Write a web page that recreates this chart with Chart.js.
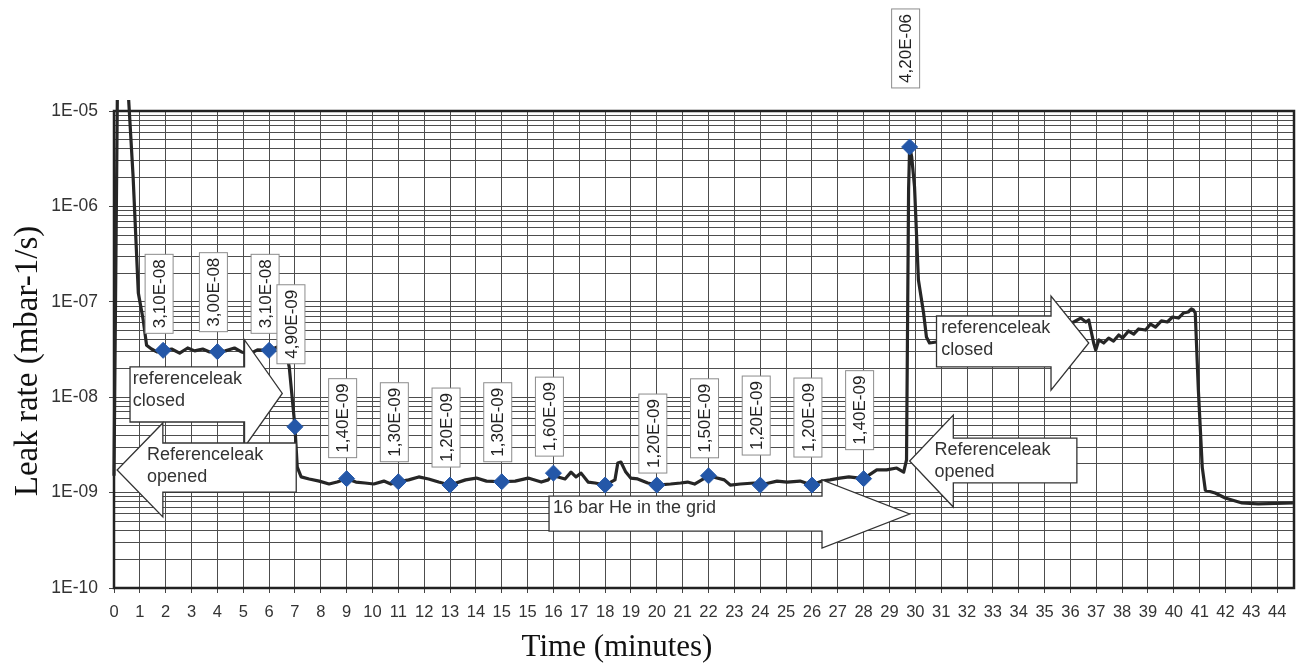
<!DOCTYPE html>
<html>
<head>
<meta charset="utf-8">
<title>Leak rate over time</title>
<script src="https://cdn.jsdelivr.net/npm/chart.js@4.4.1/dist/chart.umd.min.js"></script>
<style>
  html, body { margin: 0; padding: 0; background: #fff; }
  #wrap { width: 1303px; height: 666px; position: relative; }
</style>
</head>
<body>
<div id="wrap"><canvas id="leak" width="1303" height="666"></canvas></div>
<script>
// Labels printed under each grid column (the logger repeats 15)
const timeLabels = ['0','1','2','3','4','5','6','7','8','9','10','11','12','13','14','15','15','16','17','18','19','20',
  '21','22','23','24','25','26','27','28','29','30','31','32','33','34','35','36','37','38','39','40','41','42','43','44'];

// Decade labels of the logarithmic leak-rate axis
const yTickLabels = ['1E-10','1E-09','1E-08','1E-07','1E-06','1E-05'];

// Recorded helium leak rate trace (x in grid columns, y in mbar·l/s)
const traceX = [0, 0.14, 0.49, 0.74, 0.94, 1.13, 1.26, 1.45, 1.66, 1.9, 2.23, 2.54, 2.85, 3.12, 3.43, 3.7, 4.0,
  4.31, 4.66, 4.93, 5.24, 5.55, 6.0, 6.32, 6.66, 6.78, 7.0, 7.09, 7.24, 7.55, 7.94, 8.32, 8.63, 9.0, 9.36, 9.71,
  10.05, 10.44, 10.71, 11.0, 11.4, 11.79, 12.17, 12.56, 13.0, 13.6, 14.02, 14.41, 15.0, 15.52, 16.02, 16.53, 16.8,
  17.0, 17.18, 17.45, 17.68, 17.87, 18.07, 18.34, 18.61, 19.0, 19.38, 19.49, 19.61, 19.8, 19.99, 20.26, 20.65,
  21.0, 21.53, 21.92, 22.19, 22.46, 23.0, 23.61, 23.84, 24.23, 24.77, 25.0, 25.65, 26.04, 26.54, 27.0, 27.39,
  27.7, 28.08, 28.43, 29.0, 29.51, 29.89, 30.28, 30.55, 30.66, 30.74, 30.78, 30.86, 30.97, 31.12, 31.32, 31.43,
  31.55, 31.82, 32.59, 34.13, 35.67, 36.83, 37.13, 37.4, 37.6, 37.71, 37.9, 37.98, 38.1, 38.29, 38.48, 38.67,
  38.87, 39.02, 39.25, 39.45, 39.64, 39.91, 40.1, 40.29, 40.52, 40.75, 40.95, 41.18, 41.37, 41.56, 41.68, 41.76,
  41.83, 41.95, 42.1, 42.22, 42.6, 42.99, 43.64, 44.26, 45.61];
const traceY = [1.5e-9, 3e-5, 3e-5, 2.03e-6, 1.24e-7, 6.44e-8, 3.5e-8, 3.2e-8, 2.98e-8, 3.1e-8, 3.2e-8, 2.9e-8,
  3.28e-8, 3.06e-8, 3.2e-8, 2.98e-8, 3.0e-8, 3.06e-8, 3.28e-8, 2.98e-8, 2.84e-8, 3.13e-8, 3.1e-8, 3.36e-8, 2.98e-8,
  2.07e-8, 4.9e-9, 1.85e-9, 1.46e-9, 1.39e-9, 1.32e-9, 1.23e-9, 1.29e-9, 1.4e-9, 1.29e-9, 1.26e-9, 1.23e-9,
  1.32e-9, 1.23e-9, 1.3e-9, 1.36e-9, 1.46e-9, 1.39e-9, 1.29e-9, 1.2e-9, 1.36e-9, 1.42e-9, 1.32e-9, 1.3e-9,
  1.32e-9, 1.42e-9, 1.29e-9, 1.36e-9, 1.6e-9, 1.46e-9, 1.39e-9, 1.64e-9, 1.46e-9, 1.6e-9, 1.29e-9, 1.26e-9,
  1.2e-9, 1.36e-9, 2.04e-9, 2.09e-9, 1.64e-9, 1.42e-9, 1.39e-9, 1.26e-9, 1.2e-9, 1.23e-9, 1.26e-9, 1.29e-9,
  1.23e-9, 1.5e-9, 1.36e-9, 1.2e-9, 1.23e-9, 1.26e-9, 1.2e-9, 1.32e-9, 1.29e-9, 1.32e-9, 1.2e-9, 1.32e-9,
  1.36e-9, 1.42e-9, 1.46e-9, 1.4e-9, 1.73e-9, 1.73e-9, 1.81e-9, 1.64e-9, 2.2e-9, 1.5e-6, 4.2e-6, 3.3e-6, 1.6e-6,
  1.69e-7, 7.63e-8, 4.28e-8, 3.7e-8, 3.79e-8, 3.98e-8, 4.71e-8, 5.44e-8, 6.0e-8, 6.14e-8, 6.76e-8, 6.14e-8,
  6.44e-8, 3.7e-8, 3.13e-8, 3.98e-8, 3.7e-8, 4.17e-8, 3.88e-8, 4.49e-8, 4.17e-8, 4.94e-8, 4.59e-8, 5.19e-8,
  5.06e-8, 5.85e-8, 5.44e-8, 6.3e-8, 6.14e-8, 6.93e-8, 6.76e-8, 7.63e-8, 7.82e-8, 8.41e-8, 8.2e-8, 7.63e-8,
  1.19e-8, 1.85e-9, 1.06e-9, 9.9e-10, 8.77e-10, 7.78e-10, 7.6e-10, 7.78e-10];

// Marked readings and whether each one carries a value tag
const readingX = [1.9, 4, 6, 7, 9, 11, 13, 15, 17, 19, 21, 23, 25, 27, 29, 30.78];
const readingY = [3.1e-8, 3.0e-8, 3.1e-8, 4.9e-9, 1.4e-9, 1.3e-9, 1.2e-9, 1.3e-9, 1.6e-9, 1.2e-9, 1.2e-9,
  1.5e-9, 1.2e-9, 1.2e-9, 1.4e-9, 4.2e-6];
const readingTagged = [true, true, true, true, true, true, true, true, true, false, true, true, true, true, true, true];

// Block-arrow notes (x in grid columns, y as log10 of the leak rate)
const notes = [
  { lines: ['referenceleak', 'closed'], end: 0.62, base: 5.05, tip: 6.51, shaft: [-7.683, -8.26], head: [-7.40, -8.522], textX: 0.73 },
  { lines: ['Referenceleak', 'opened'], end: 7.05, base: 1.89, tip: 0.12, shaft: [-8.48, -8.994], head: [-8.27, -9.256], textX: 1.28 },
  { lines: ['16 bar He in the grid'], end: 16.83, base: 27.39, tip: 30.78, shaft: [-9.036, -9.403], head: [-8.868, -9.581], textX: 16.98 },
  { lines: ['Referenceleak', 'opened'], end: 37.25, base: 32.47, tip: 30.78, shaft: [-8.428, -8.899], head: [-8.187, -9.151], textX: 31.74 },
  { lines: ['referenceleak', 'closed'], end: 31.82, base: 36.25, tip: 37.71, shaft: [-7.149, -7.683], head: [-6.939, -7.925], textX: 32.0 }
];

// How far each value tag sits above its marker (px)
const tagGap = [17, 20, 17, 63, 21, 20, 18, 20, 17, 0, 12, 18, 30, 28, 29, 59];

const SANS = "'Liberation Sans', Arial, sans-serif";
const SERIF = "'Liberation Serif', 'Times New Roman', serif";

function formatReading(v) {
  const e = Math.floor(Math.log10(v) + 1e-9);
  const m = (v / Math.pow(10, e)).toFixed(2).replace('.', ',');
  const sign = e < 0 ? '-' : '+';
  return m + 'E' + sign + String(Math.abs(e)).padStart(2, '0');
}

function isDecade(v) {
  const l = Math.log10(v);
  return Math.abs(l - Math.round(l)) < 1e-6;
}

const framePlugin = {
  id: 'frame',
  beforeDatasetsDraw(chart) {
    const { ctx, chartArea: a } = chart;
    ctx.save();
    ctx.strokeStyle = '#222';
    ctx.lineWidth = 2.5;
    ctx.strokeRect(a.left, a.top, a.right - a.left, a.bottom - a.top);
    ctx.restore();
  },
  afterDatasetDraw(chart, args) {
    if (args.index !== 1) return;
    const { ctx } = chart;
    const xs = chart.scales.x, ys = chart.scales.y;
    const X = v => xs.getPixelForValue(v);
    const Y = e => ys.getPixelForValue(Math.pow(10, e));
    ctx.save();
    notes.forEach(n => {
      const st = Y(n.shaft[0]), sb = Y(n.shaft[1]);
      const ht = Y(n.head[0]), hb = Y(n.head[1]);
      const mid = (ht + hb) / 2;
      const end = X(n.end), base = X(n.base), tip = X(n.tip);
      ctx.beginPath();
      ctx.moveTo(end, st);
      ctx.lineTo(base, st);
      ctx.lineTo(base, ht);
      ctx.lineTo(tip, mid);
      ctx.lineTo(base, hb);
      ctx.lineTo(base, sb);
      ctx.lineTo(end, sb);
      ctx.closePath();
      ctx.fillStyle = '#fff';
      ctx.fill();
      ctx.strokeStyle = '#333';
      ctx.lineWidth = 1.3;
      ctx.lineJoin = 'miter';
      ctx.stroke();
      ctx.fillStyle = '#333';
      ctx.font = '18px ' + SANS;
      ctx.textAlign = 'left';
      ctx.textBaseline = 'middle';
      n.lines.forEach((t, k) => ctx.fillText(t, X(n.textX), st + 12 + k * 22));
    });
    ctx.restore();
  },
  afterDatasetsDraw(chart) {
    const { ctx } = chart;
    const xs = chart.scales.x, ys = chart.scales.y;
    ctx.save();
    ctx.font = '17px ' + SANS;
    readingX.forEach((x, i) => {
      if (!readingTagged[i]) return;
      const label = formatReading(readingY[i]);
      const px = xs.getPixelForValue(x) - 4;
      const py = ys.getPixelForValue(readingY[i]);
      const len = ctx.measureText(label).width + 10;
      const w = 28;
      const bottom = py - tagGap[i];
      ctx.fillStyle = '#fff';
      ctx.fillRect(px - w / 2, bottom - len, w, len);
      ctx.strokeStyle = '#8c8c8c';
      ctx.lineWidth = 1;
      ctx.strokeRect(px - w / 2, bottom - len, w, len);
      ctx.save();
      ctx.translate(px, bottom - len / 2);
      ctx.rotate(-Math.PI / 2);
      ctx.fillStyle = '#222';
      ctx.textAlign = 'center';
      ctx.textBaseline = 'middle';
      ctx.fillText(label, 0, 1);
      ctx.restore();
    });
    ctx.restore();
  },
  afterDraw(chart) {
    const { ctx } = chart;
    ctx.save();
    ctx.fillStyle = '#111';
    ctx.textAlign = 'center';
    ctx.textBaseline = 'middle';
    ctx.font = '33px ' + SERIF;
    ctx.translate(28, 361);
    ctx.rotate(-Math.PI / 2);
    ctx.fillText('Leak rate (mbar-1/s)', 0, 0);
    ctx.restore();
    ctx.save();
    ctx.fillStyle = '#111';
    ctx.textAlign = 'center';
    ctx.textBaseline = 'middle';
    ctx.font = '31px ' + SERIF;
    ctx.fillText('Time (minutes)', 617, 648);
    ctx.restore();
  }
};

Chart.defaults.font.family = SANS;

new Chart(document.getElementById('leak'), {
  type: 'line',
  data: {
    datasets: [
      {
        label: 'Readings',
        data: readingX.map((x, i) => ({ x, y: readingY[i] })),
        showLine: false,
        pointStyle: 'rectRot',
        pointRadius: 8,
        pointBackgroundColor: '#2457a8',
        pointBorderColor: '#2457a8',
        pointBorderWidth: 1,
        clip: false
      },
      {
        label: 'Leak rate',
        data: traceX.map((x, i) => ({ x, y: traceY[i] })),
        borderColor: '#262626',
        borderWidth: 3.2,
        pointRadius: 0,
        tension: 0,
        borderJoinStyle: 'round',
        clip: { left: 2, top: 11, right: 2, bottom: 2 }
      }
    ]
  },
  options: {
    responsive: false,
    animation: false,
    events: [],
    layout: { padding: { left: 0, right: 4, top: 111, bottom: 0 } },
    plugins: { legend: { display: false }, tooltip: { enabled: false } },
    scales: {
      x: {
        type: 'linear',
        min: 0,
        max: 45.65,
        afterBuildTicks(axis) { axis.ticks = timeLabels.map((_, i) => ({ value: i })); },
        afterFit(axis) { axis.height = 78; },
        ticks: {
          autoSkip: false,
          maxRotation: 0,
          minRotation: 0,
          padding: 10,
          color: '#333',
          font: { size: 16.5 },
          callback: v => (Number.isInteger(v) && timeLabels[v] !== undefined) ? timeLabels[v] : ''
        },
        grid: { color: '#4d4d4d', lineWidth: 1, tickLength: 5, tickColor: '#444' },
        border: { display: false }
      },
      y: {
        type: 'logarithmic',
        min: 1e-10,
        max: 1e-5,
        afterBuildTicks(axis) {
          const ticks = [];
          yTickLabels.forEach((_, d) => {
            const base = Math.pow(10, d - 10);
            if (d === yTickLabels.length - 1) { ticks.push({ value: base }); return; }
            for (let m = 1; m <= 9; m++) ticks.push({ value: m * base });
          });
          axis.ticks = ticks;
        },
        afterFit(axis) { axis.width = 114; },
        ticks: {
          autoSkip: false,
          padding: 11,
          color: '#333',
          font: { size: 17.5 },
          callback: v => isDecade(v) ? yTickLabels[Math.round(Math.log10(v)) + 10] : ''
        },
        grid: {
          color: '#4d4d4d',
          lineWidth: 1,
          tickLength: 5,
          tickColor: c => (c.tick && isDecade(c.tick.value)) ? '#444' : 'rgba(0,0,0,0)'
        },
        border: { display: false }
      }
    }
  },
  plugins: [framePlugin]
});
</script>
</body>
</html>
